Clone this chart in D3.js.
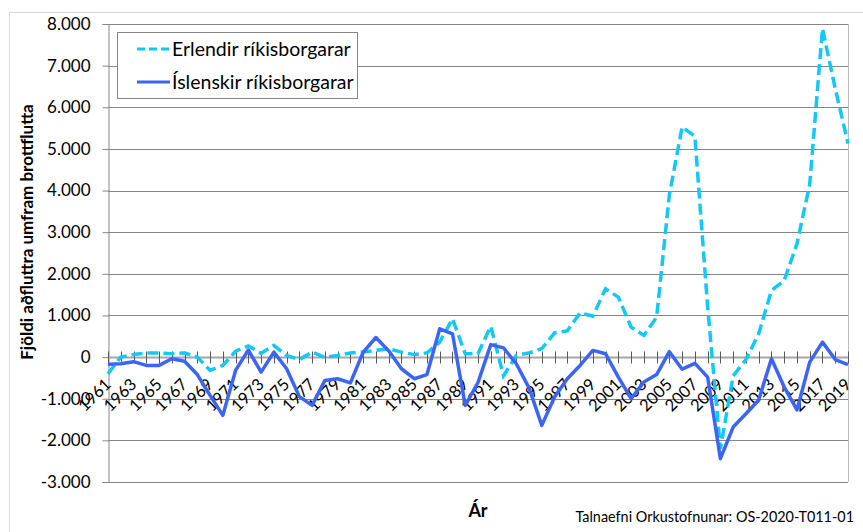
<!DOCTYPE html>
<html lang="is">
<head>
  <meta charset="UTF-8">
  <title>Aðfluttir umfram brottflutta</title>
  <script src="https://d3js.org/d3.v7.min.js"></script>
  <style>
    body { margin: 0; background: #fff; }
    text { font-family: Lato, "Open Sans", sans-serif; fill: #000; }
  </style>
</head>
<body>
  <svg id="chart" width="863" height="532"></svg>

  <script>
    const years = d3.range(1961, 2020);

    // Erlendir ríkisborgarar (dashed)
    const erlendir = [
      -400, 0, 60, 100, 100, 80, 100, 0, -320, -200,
      140, 270, 90, 280, 40, -60, 120, -10, 40, 100,
      120, 160, 200, 120, 60, 100, 360, 920, 80, 80,
      740, -450, 40, 100, 200, 580, 630, 1060, 980, 1640,
      1440, 720, 520, 960, 3900, 5530, 5300, 1200, -2200, -450,
      -60, 560, 1600, 1840, 2720, 4150, 7890, 6450, 5130
    ];

    // Íslenskir ríkisborgarar (solid)
    const islenskir = [
      -170, -160, -110, -200, -200, -40, -100, -420, -920, -1400,
      -320, 170, -360, 120, -280, -950, -1160, -560, -520, -620,
      120, 470, 150, -280, -520, -420, 680, 560, -1160, -610,
      300, 220, -160, -740, -1640, -960, -520, -200, 160, 80,
      -480, -1000, -600, -420, 130, -290, -150, -480, -2440, -1680,
      -1360, -1030, -40, -720, -1270, -120, 360, -60, -180
    ];

    const yTicks = d3.range(-3000, 8001, 1000);
    const seriesNames = ["Erlendir ríkisborgarar", "Íslenskir ríkisborgarar"];

    const plot = { left: 108, right: 848, top: 24, bottom: 482 };

    const svg = d3.select("#chart");

    const fmt = d3.formatLocale({
      decimal: ",", thousands: ".", grouping: [3], currency: ["", ""], minus: "-"
    }).format(",");

    const x = d3.scalePoint().domain(years).range([plot.left, plot.right]);
    const y = d3.scaleLinear().domain([-3000, 8000]).range([plot.bottom, plot.top]);

    // outer chart border
    svg.append("rect")
      .attr("x", 9.5).attr("y", 12.5)
      .attr("width", 880).attr("height", 540)
      .attr("fill", "none").attr("stroke", "#d9d9d9");

    // gridlines
    svg.append("g")
      .selectAll("line")
      .data(yTicks.filter(d => d !== 0))
      .join("line")
      .attr("x1", plot.left).attr("x2", plot.right)
      .attr("y1", d => Math.round(y(d)) + 0.5).attr("y2", d => Math.round(y(d)) + 0.5)
      .attr("stroke", "#868686");

    // right border of plot
    svg.append("line")
      .attr("x1", plot.right + 0.5).attr("x2", plot.right + 0.5)
      .attr("y1", plot.top).attr("y2", plot.bottom)
      .attr("stroke", "#bfbfbf");

    // y axis
    const yAxis = svg.append("g")
      .attr("transform", `translate(${plot.left + 0.5},0)`)
      .call(d3.axisLeft(y).tickValues(yTicks).tickFormat(fmt).tickSize(6).tickPadding(12));
    yAxis.select(".domain").attr("stroke", "#868686");
    yAxis.selectAll(".tick line").attr("stroke", "#868686");
    yAxis.selectAll(".tick text")
      .style("font-family", "Lato, sans-serif")
      .style("font-size", "17px")
      .attr("fill", "#000");

    // x axis at zero
    const y0 = Math.round(y(0)) + 0.5;
    svg.append("line")
      .attr("x1", plot.left).attr("x2", plot.right)
      .attr("y1", y0).attr("y2", y0)
      .attr("stroke", "#a6a6a6").attr("stroke-width", 2);

    svg.append("g")
      .selectAll("line")
      .data(years)
      .join("line")
      .attr("x1", d => Math.round(x(d)) + 0.5).attr("x2", d => Math.round(x(d)) + 0.5)
      .attr("y1", y0 - 6).attr("y2", y0 + 6)
      .attr("stroke", "#595959");

    svg.append("g")
      .selectAll("text")
      .data(years.filter(d => (d - 1961) % 2 === 0))
      .join("text")
      .attr("transform", d => `translate(${x(d) + 4},${y0 + 28}) rotate(-45)`)
      .attr("text-anchor", "end")
      .style("font-size", "16.5px")
      .text(d => d);

    // lines
    const line = d3.line()
      .x((d, i) => x(years[i]))
      .y(d => y(d));

    svg.append("path")
      .datum(erlendir)
      .attr("d", line)
      .attr("fill", "none")
      .attr("stroke", "#11c8f7")
      .attr("stroke-width", 3.5)
      .attr("stroke-dasharray", "11,5");

    svg.append("path")
      .datum(islenskir)
      .attr("d", line)
      .attr("fill", "none")
      .attr("stroke", "#3d65f5")
      .attr("stroke-width", 3.5)
      .attr("stroke-linejoin", "round");

    // legend
    const legend = svg.append("g");
    legend.append("rect")
      .attr("x", 117.5).attr("y", 32.5)
      .attr("width", 240).attr("height", 66)
      .attr("fill", "#fff").attr("stroke", "#868686");

    const styles = [
      { color: "#11c8f7", dash: "8,4" },
      { color: "#3d65f5", dash: null }
    ];
    seriesNames.forEach((name, i) => {
      const ly = 49 + i * 33;
      legend.append("line")
        .attr("x1", 137).attr("x2", 170)
        .attr("y1", ly).attr("y2", ly)
        .attr("stroke", styles[i].color)
        .attr("stroke-width", 3)
        .attr("stroke-dasharray", styles[i].dash);
      legend.append("text")
        .attr("x", 172).attr("y", ly)
        .attr("dy", "0.35em")
        .style("font-size", "19.5px")
        .text(name);
    });

    // axis titles
    svg.append("text")
      .attr("transform", "translate(33,232) rotate(-90)")
      .attr("text-anchor", "middle")
      .style("font-size", "17px")
      .style("font-weight", "bold")
      .text("Fjöldi aðfluttra umfram brottflutta");

    svg.append("text")
      .attr("x", 478).attr("y", 517)
      .attr("text-anchor", "middle")
      .style("font-size", "18px")
      .style("font-weight", "bold")
      .text("Ár");

    svg.append("text")
      .attr("x", 854).attr("y", 522)
      .attr("text-anchor", "end")
      .style("font-size", "14.4px")
      .text("Talnaefni Orkustofnunar: OS-2020-T011-01");
  </script>
</body>
</html>
